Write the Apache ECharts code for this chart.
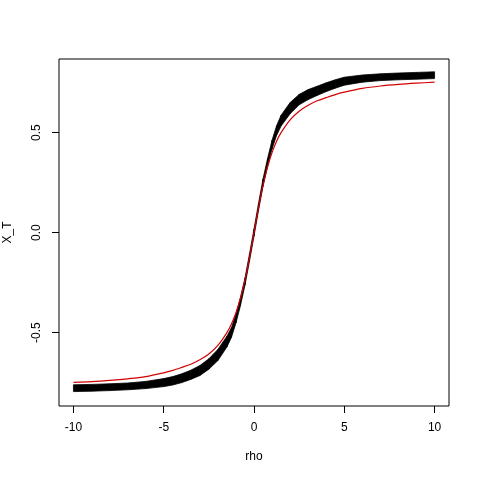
<!DOCTYPE html>
<html>
<head>
<meta charset="utf-8">
<script src="https://cdn.jsdelivr.net/npm/echarts@6/dist/echarts.min.js"></script>
<style>
html, body { margin: 0; padding: 0; background: #fff; }
#chart { width: 480px; height: 480px; }
</style>
</head>
<body>
<div id="chart"></div>
<script>
// rho positions the values were read at
const rho = [-10, -9, -8, -7, -6, -5, -4.5, -4, -3.5, -3, -2.5, -2, -1.5, -1.25, -1, -0.75, -0.5, -0.25, 0,
             0.25, 0.5, 0.75, 1, 1.25, 1.5, 2, 2.5, 3, 3.5, 4, 4.5, 5, 6, 7, 8, 9, 10];
// lower / upper edge of the black point cloud
const cloudLow = [-0.795, -0.793, -0.790, -0.786, -0.780, -0.770, -0.762, -0.750, -0.734, -0.715, -0.683, -0.640, -0.572, -0.524, -0.452, -0.365, -0.263, -0.143, -0.018,
                  0.110, 0.232, 0.330, 0.418, 0.486, 0.533, 0.594, 0.639, 0.665, 0.686, 0.705, 0.722, 0.737, 0.752, 0.760, 0.764, 0.767, 0.770];
const cloudHigh = [-0.761, -0.759, -0.756, -0.752, -0.744, -0.730, -0.720, -0.706, -0.688, -0.665, -0.631, -0.584, -0.518, -0.476, -0.408, -0.325, -0.227, -0.107, 0.018,
                   0.146, 0.268, 0.370, 0.462, 0.534, 0.587, 0.650, 0.691, 0.715, 0.732, 0.749, 0.764, 0.777, 0.788, 0.794, 0.798, 0.801, 0.804];
// red fitted curve
const fitLine = [-0.749, -0.745, -0.739, -0.731, -0.720, -0.701, -0.689, -0.674, -0.658, -0.636, -0.607, -0.564, -0.500, -0.457, -0.400, -0.328, -0.236, -0.125, 0,
                 0.125, 0.236, 0.328, 0.400, 0.457, 0.500, 0.564, 0.607, 0.637, 0.659, 0.675, 0.690, 0.702, 0.721, 0.733, 0.741, 0.747, 0.752];
const xTicks = [-10, -5, 0, 5, 10];
const yTicks = [-0.5, 0, 0.5];

const chart = echarts.init(document.getElementById('chart'));
const font = { fontFamily: 'Liberation Sans, Arial, sans-serif', fontSize: 12, color: '#000' };

// band of the point cloud, one quad per pair of neighbouring samples
function renderCloud(params, api) {
    const i = params.dataIndex;
    if (i >= rho.length - 1) return;
    const pts = [
        api.coord([rho[i], cloudLow[i]]),
        api.coord([rho[i + 1], cloudLow[i + 1]]),
        api.coord([rho[i + 1], cloudHigh[i + 1]]),
        api.coord([rho[i], cloudHigh[i]])
    ];
    return {
        type: 'polygon',
        shape: { points: pts },
        style: { fill: '#000', stroke: '#000', lineWidth: 0.8 }
    };
}

const option = {
    backgroundColor: '#fff',
    animation: false,
    grid: {
        left: 59, top: 59, right: 31, bottom: 74,
        outerBoundsMode: 'none', containLabel: false,
        show: true, borderColor: '#000', borderWidth: 1
    },
    xAxis: {
        type: 'value', min: -10.8, max: 10.8,
        name: 'rho', nameLocation: 'middle', nameGap: 45,
        nameTextStyle: font,
        axisLine: { show: false, onZero: false },
        axisTick: { show: true, length: 7, customValues: xTicks, lineStyle: { color: '#000' } },
        axisLabel: Object.assign({ margin: 16, customValues: xTicks, formatter: v => String(v) }, font),
        splitLine: { show: false }
    },
    yAxis: {
        type: 'value', min: -0.867, max: 0.868,
        name: 'X_T', nameLocation: 'middle', nameGap: 45,
        nameTextStyle: font,
        axisLine: { show: false, onZero: false },
        axisTick: { show: true, length: 7, customValues: yTicks, lineStyle: { color: '#000' } },
        axisLabel: Object.assign({ margin: 16, rotate: 90, customValues: yTicks, formatter: v => v.toFixed(1) }, font),
        splitLine: { show: false }
    },
    series: [
        {
            type: 'custom',
            renderItem: renderCloud,
            data: rho.map((x, i) => [x, cloudLow[i], cloudHigh[i]]),
            encode: { x: 0, y: [1, 2] },
            clip: true
        },
        {
            type: 'line', symbol: 'none', smooth: 0.3,
            data: rho.map((x, i) => [x, fitLine[i]]),
            lineStyle: { color: '#d40000', width: 1.2 },
            z: 5
        }
    ]
};
chart.setOption(option);
window.addEventListener('resize', () => chart.resize());
</script>
</body>
</html>
